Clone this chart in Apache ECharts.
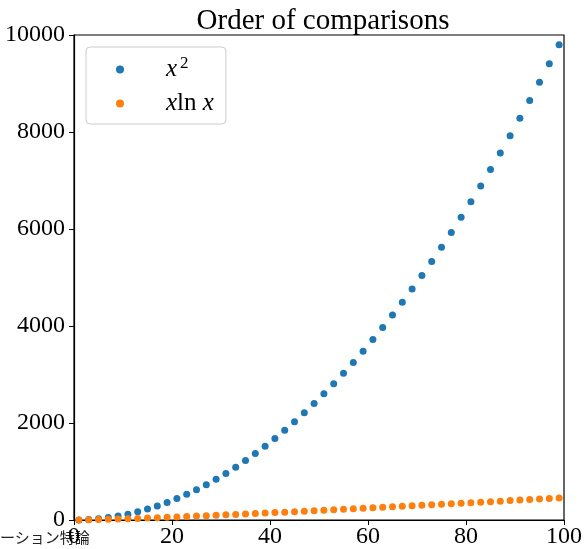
<!DOCTYPE html>
<html><head><meta charset="utf-8">
<script src="https://cdn.jsdelivr.net/npm/echarts@6/dist/echarts.min.js"></script>
<style>html,body{margin:0;padding:0;background:#fff}#c{width:585px;height:549px}</style>
</head><body><div id="c"></div>
<script>
const xs = [1,3,5,7,9,11,13,15,17,19,21,23,25,27,29,31,33,35,37,39,41,43,45,47,49,51,53,55,57,59,61,63,65,67,69,71,73,75,77,79,81,83,85,87,89,91,93,95,97,99];
const squares = [1,9,25,49,81,121,169,225,289,361,441,529,625,729,841,961,1089,1225,1369,1521,1681,1849,2025,2209,2401,2601,2809,3025,3249,3481,3721,3969,4225,4489,4761,5041,5329,5625,5929,6241,6561,6889,7225,7569,7921,8281,8649,9025,9409,9801];
const xlogx = [0,3.3,8.0,13.6,19.8,26.4,33.3,40.6,48.2,55.9,63.9,72.1,80.5,89.0,97.7,106.5,115.4,124.4,133.6,142.9,152.3,161.7,171.3,181.0,190.7,200.5,210.4,220.4,230.5,240.6,250.8,261.0,271.3,281.7,292.2,302.6,313.2,323.8,334.5,345.2,355.9,366.8,377.6,388.5,399.5,410.5,421.5,432.6,443.7,454.9];
const xTicks = [0,20,40,60,80,100];
const yTicks = [0,2000,4000,6000,8000,10000];
const titleText = 'Order of comparisons';
const footText = 'ーション特論';

const serif = '"Liberation Serif","DejaVu Serif",serif';
const chart = echarts.init(document.getElementById('c'));
chart.setOption({
  animation: false,
  title: { text: titleText, left: 318, top: 2, textAlign: 'center',
    textStyle: { fontFamily: serif, fontSize: 29, fontWeight: 'normal', color: '#000' } },
  grid: { left: 74, right: 21, top: 35, bottom: 27, show: true, borderColor: '#000', borderWidth: 1.2, backgroundColor: 'transparent' },
  legend: {
    orient: 'vertical', left: 86, top: 47, padding: [8, 12, 8, 30],
    backgroundColor: '#fff', borderColor: '#ccc', borderWidth: 1, borderRadius: 4,
    itemWidth: 8, itemHeight: 8, itemGap: 9,
    data: [{name: 'x2', icon: 'circle'}, {name: 'xlnx', icon: 'circle'}],
    formatter: n => n === 'x2' ? '{i|x}{s|2}' : '{i|x}{r|ln}{i| x}',
    textStyle: { fontFamily: serif, fontSize: 25, color: '#000', padding: [0,0,0,37],
      rich: {
        i: { fontFamily: serif, fontStyle: 'italic', fontSize: 25, height: 25 },
        r: { fontFamily: serif, fontSize: 25, height: 25 },
        s: { fontFamily: serif, fontSize: 17, verticalAlign: 'top', height: 25, padding: [0,0,12,3] }
      } }
  },
  xAxis: {
    type: 'value', min: 0, max: 100, interval: 20,
    axisLine: { show: true, lineStyle: { color: '#000', width: 1.2 } },
    axisTick: { show: true, inside: false, length: 5, lineStyle: { color: '#000' } },
    splitLine: { show: false },
    axisLabel: { fontFamily: serif, fontSize: 24, color: '#000', margin: 5,
      formatter: v => xTicks.includes(v) ? String(v) : '' }
  },
  yAxis: {
    type: 'value', min: 0, max: 10000, interval: 2000,
    axisLine: { show: true, lineStyle: { color: '#000', width: 1.2 } },
    axisTick: { show: true, inside: false, length: 5, lineStyle: { color: '#000' } },
    splitLine: { show: false },
    axisLabel: { fontFamily: serif, fontSize: 24, color: '#000', margin: 9,
      formatter: v => yTicks.includes(v) ? String(v) : '' }
  },
  series: [
    { name: 'x2', type: 'scatter', symbolSize: 7, itemStyle: { color: '#1f77b4', opacity: 1 },
      data: xs.map((x, i) => [x, squares[i]]) },
    { name: 'xlnx', type: 'scatter', symbolSize: 7, itemStyle: { color: '#ff7f0e', opacity: 1 },
      data: xs.map((x, i) => [x, xlogx[i]]) }
  ],
  graphic: [{ type: 'text', left: 0, top: 530,
    style: { text: footText, fontFamily: '"Noto Sans CJK JP",sans-serif', fontSize: 15, fill: '#222' } }]
});
</script></body></html>
